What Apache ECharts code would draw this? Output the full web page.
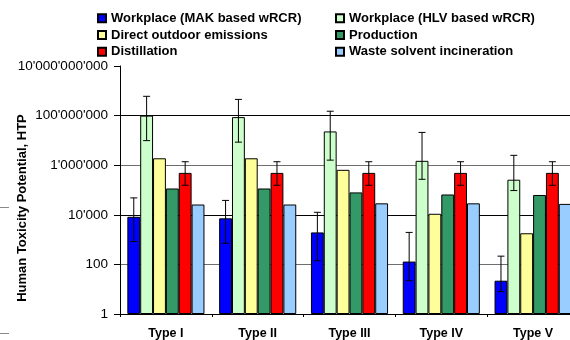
<!DOCTYPE html>
<html>
<head>
<meta charset="utf-8">
<script src="https://cdn.jsdelivr.net/npm/echarts@6/dist/echarts.min.js"></script>
<style>
html,body{margin:0;padding:0;background:#fff;overflow:hidden;}
#chart{width:570px;height:340px;}
</style>
</head>
<body>
<div id="chart"></div>
<script>
const categories = ['Type I', 'Type II', 'Type III', 'Type IV', 'Type V'];
const seriesNames = [
  'Workplace (MAK based wRCR)',
  'Workplace (HLV based wRCR)',
  'Direct outdoor emissions',
  'Production',
  'Distillation',
  'Waste solvent incineration'
];
const makValues = [8300, 7200, 1950, 130, 22];
const makErrHigh = [48000, 38000, 12600, 1950, 215];
const makErrLow = [830, 710, 140, 22, 8];
const hlvValues = [1.0e8, 8.7e7, 2.3e7, 1.5e6, 2.6e5];
const hlvErrHigh = [6.0e8, 4.5e8, 1.5e8, 2.1e7, 2.5e6];
const hlvErrLow = [9.8e6, 8.5e6, 1.6e6, 2.7e5, 9.5e4];
const directValues = [1.9e6, 1.9e6, 6.5e5, 1.1e4, 1800];
const productionValues = [1.15e5, 1.15e5, 8.0e4, 6.6e4, 6.3e4];
const distillationValues = [4.9e5, 4.9e5, 4.9e5, 4.9e5, 4.9e5];
const distErrHigh = [1.38e6, 1.38e6, 1.38e6, 1.38e6, 1.38e6];
const distErrLow = [1.55e5, 1.55e5, 1.55e5, 1.55e5, 1.55e5];
const wasteValues = [2.6e4, 2.6e4, 2.9e4, 2.9e4, 2.75e4];
const colors = ['#0000FF', '#CCFFCC', '#FFFF99', '#339966', '#FF0000', '#99CCFF'];

const FONT = '"Liberation Sans", Arial, sans-serif';
const CAT_GAP = 0.16;
const N_BARS = 6;

function fmt(v) {
  const n = Math.round(v);
  return String(n).replace(/\B(?=(\d{3})+(?!\d))/g, "'");
}

function errData(lo, hi) {
  return categories.map((c, i) => [i, lo[i], hi[i]]);
}

function makeErrRender(slot) {
  return function (params, api) {
    const ci = api.value(0);
    const pLo = api.coord([ci, api.value(1)]);
    const pHi = api.coord([ci, api.value(2)]);
    const catW = api.coord([1, api.value(1)])[0] - api.coord([0, api.value(1)])[0];
    const groupW = catW * (1 - CAT_GAP);
    const bw = groupW / N_BARS;
    const x = pLo[0] - groupW / 2 + bw * (slot + 0.5);
    const half = 3.5;
    const st = { stroke: '#000', lineWidth: 1 };
    return {
      type: 'group',
      children: [
        { type: 'line', shape: { x1: x, y1: pLo[1], x2: x, y2: pHi[1] }, style: st },
        { type: 'line', shape: { x1: x - half, y1: pHi[1], x2: x + half, y2: pHi[1] }, style: st },
        { type: 'line', shape: { x1: x - half, y1: pLo[1], x2: x + half, y2: pLo[1] }, style: st }
      ]
    };
  };
}

const valueSets = [makValues, hlvValues, directValues, productionValues, distillationValues, wasteValues];

const barSeries = seriesNames.map((name, i) => ({
  name: name,
  type: 'bar',
  data: valueSets[i],
  barGap: '0%',
  barCategoryGap: (CAT_GAP * 100) + '%',
  itemStyle: { color: colors[i], borderColor: '#000', borderWidth: 1 },
  emphasis: { disabled: true },
  z: 2
}));

const errSeries = [
  { slot: 0, lo: makErrLow, hi: makErrHigh },
  { slot: 1, lo: hlvErrLow, hi: hlvErrHigh },
  { slot: 4, lo: distErrLow, hi: distErrHigh }
].map(e => ({
  type: 'custom',
  renderItem: makeErrRender(e.slot),
  data: errData(e.lo, e.hi),
  encode: { x: 0, y: [1, 2] },
  z: 5,
  silent: true
}));

const legendText = { fontFamily: FONT, fontSize: 13, fontWeight: 'bold', color: '#000', lineHeight: 15 };

const chart = echarts.init(document.getElementById('chart'), null, { renderer: 'canvas' });
chart.setOption({
  animation: false,
  backgroundColor: '#fff',
  legend: [
    {
      orient: 'vertical', left: 97, top: 10.8, itemGap: 1.7, padding: 0,
      itemWidth: 8, itemHeight: 8, icon: 'rect',
      data: [seriesNames[0], seriesNames[2], seriesNames[4]],
      textStyle: legendText, selectedMode: false
    },
    {
      orient: 'vertical', left: 335, top: 10.8, itemGap: 1.7, padding: 0,
      itemWidth: 8, itemHeight: 8, icon: 'rect',
      data: [seriesNames[1], seriesNames[3], seriesNames[5]],
      textStyle: legendText, selectedMode: false
    }
  ],
  grid: { left: 120, top: 66, height: 248, width: 459, containLabel: false, outerBoundsMode: 'none' },
  xAxis: {
    type: 'category',
    data: categories,
    axisLine: { lineStyle: { color: '#000', width: 1 } },
    axisTick: { show: true, length: 3, lineStyle: { color: '#000' } },
    axisLabel: { fontFamily: FONT, fontSize: 12.5, fontWeight: 'bold', color: '#000', margin: 13 },
    splitLine: { show: false }
  },
  yAxis: {
    type: 'log',
    logBase: 100,
    min: 1,
    max: 1e10,
    splitNumber: 5,
    axisLine: { show: true, lineStyle: { color: '#000', width: 1 } },
    axisTick: { show: true, length: 6, lineStyle: { color: '#000' } },
    axisLabel: { fontFamily: FONT, fontSize: 13.5, color: '#000', margin: 12, formatter: fmt },
    splitLine: {
      show: true, showMaxLine: false,
      lineStyle: { color: ['#000', '#6e6e6e', '#000', '#6e6e6e', '#000'], width: 1 }
    },
    minorTick: { show: false }
  },
  graphic: [
    {
      type: 'text',
      x: 22, y: 208,
      rotation: Math.PI / 2,
      style: {
        text: 'Human Toxicity Potential, HTP',
        font: 'bold 13px ' + FONT,
        fill: '#000',
        align: 'center',
        verticalAlign: 'middle'
      }
    },
    { type: 'line', shape: { x1: 0, y1: 207.5, x2: 9, y2: 207.5 }, style: { stroke: '#888', lineWidth: 1 } },
    { type: 'line', shape: { x1: 0, y1: 333.5, x2: 9, y2: 333.5 }, style: { stroke: '#888', lineWidth: 1 } }
  ],
  series: barSeries.concat(errSeries)
});
</script>
</body>
</html>
